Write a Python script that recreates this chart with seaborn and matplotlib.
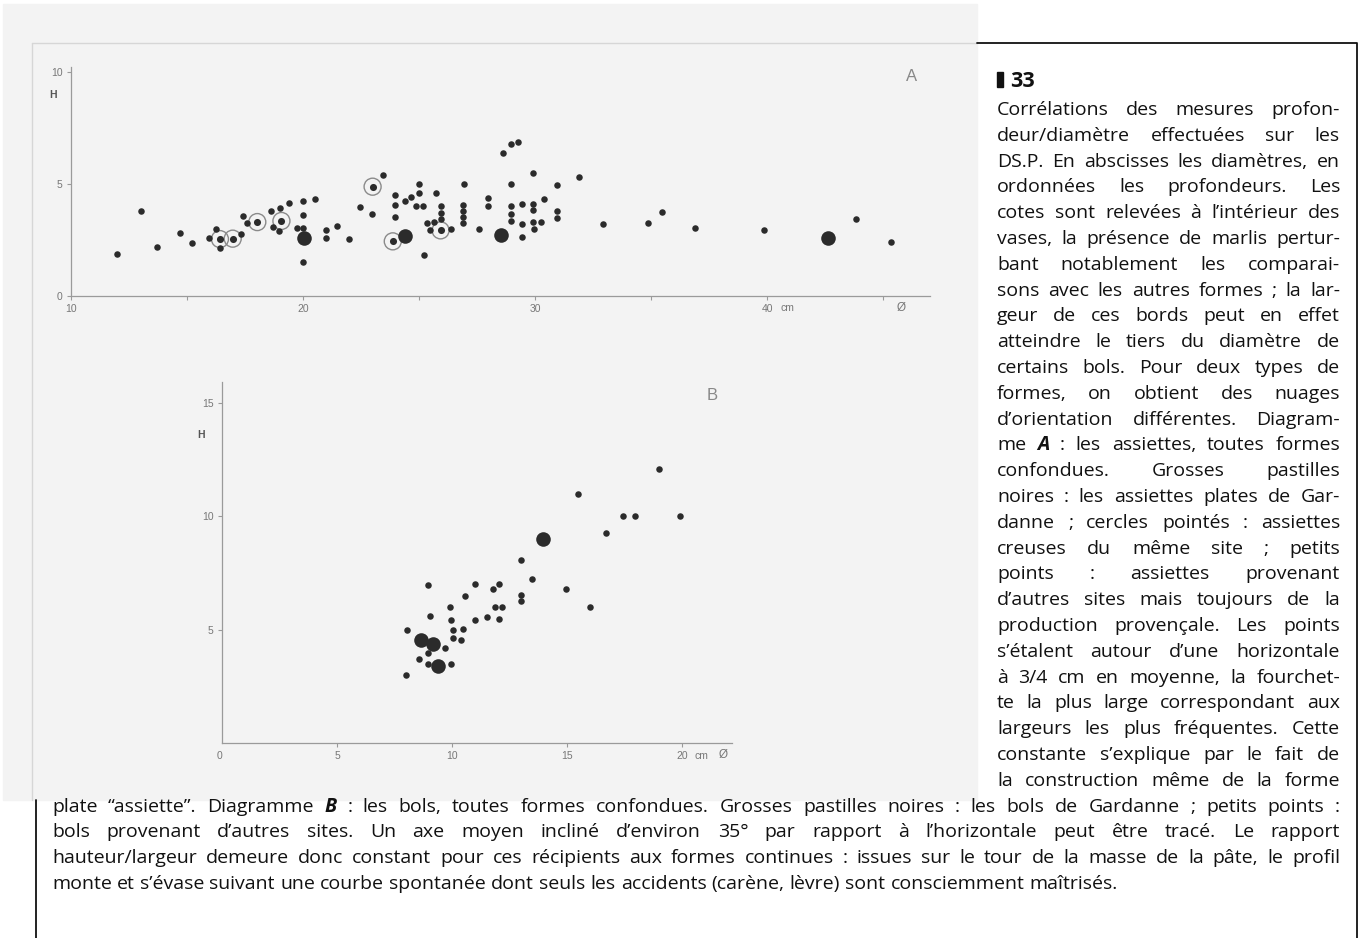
import matplotlib
matplotlib.use("Agg")
import matplotlib.pyplot as plt
from matplotlib.patches import Rectangle
from matplotlib.lines import Line2D
import pandas as pd
import seaborn as sns

# Diagramme A : assiettes (diametre / hauteur, cm)
a_small_d = [11.97, 13.0, 13.72, 14.7, 15.2, 15.96, 16.24, 16.42, 17.34, 17.43, 17.57, 18.63, 18.72,
             19.0, 18.98, 19.38, 19.73, 20.01, 20.01, 20.01, 20.0, 20.5, 20.99, 20.99, 21.45, 22.0,
             22.46, 22.97, 23.46, 23.98, 23.98, 23.98, 24.41, 24.64, 24.87, 24.99, 24.99, 25.19,
             25.22, 25.36, 25.47, 25.65, 25.73, 25.93, 25.93, 25.93, 26.39, 26.94, 26.91, 26.91,
             26.91, 26.91, 27.59, 27.97, 27.97, 28.6, 28.97, 29.25, 28.95, 28.95, 28.95, 28.95,
             29.45, 29.45, 29.45, 29.91, 29.93, 29.93, 29.93, 29.96, 30.24, 30.39, 30.93, 30.93,
             30.93, 31.91, 32.94, 34.88, 35.49, 36.91, 39.87, 43.84, 45.33]
a_small_h = [1.89, 3.81, 2.2, 2.83, 2.37, 2.58, 2.99, 2.13, 2.77, 3.57, 3.27, 3.78, 3.09,
             3.94, 2.92, 4.14, 3.02, 4.24, 3.62, 3.02, 1.52, 4.33, 2.96, 2.58, 3.11, 2.53,
             3.99, 3.66, 5.39, 4.5, 4.06, 3.51, 4.24, 4.4, 4.04, 4.99, 4.58, 4.04,
             1.85, 3.27, 2.95, 3.29, 4.6, 4.03, 3.72, 3.42, 2.98, 4.99, 4.06, 3.79,
             3.53, 3.26, 3.0, 4.38, 4.0, 6.4, 6.79, 6.86, 4.99, 4.0, 3.65, 3.36,
             4.11, 3.23, 2.65, 5.5, 4.12, 3.84, 3.32, 2.99, 3.32, 4.33, 4.96, 3.78,
             3.47, 5.33, 3.21, 3.24, 3.76, 3.02, 2.93, 3.42, 2.4]
a_big_d = [20.06, 24.4, 28.55, 42.63]
a_big_h = [2.6, 2.69, 2.74, 2.57]
a_ring_d = [16.42, 16.97, 18.03, 19.07, 23.0, 23.87, 25.93]
a_ring_h = [2.54, 2.56, 3.30, 3.35, 4.88, 2.44, 2.93]

# Diagramme B : bols
b_small_d = [8.0, 8.06, 8.58, 8.96, 9.04, 8.96, 8.96, 9.71, 9.91, 9.94, 9.97, 10.03, 10.03,
             10.38, 10.49, 10.58, 10.99, 10.99, 11.51, 11.8, 11.88, 12.03, 12.06, 12.17,
             12.99, 12.99, 12.99, 13.48, 14.96, 15.48, 16.0, 16.7, 17.42, 17.97, 18.99, 19.91]
b_small_h = [3.01, 4.97, 3.69, 6.98, 5.59, 3.98, 3.48, 4.18, 6.0, 5.44, 3.48, 4.97, 4.63,
             4.54, 5.04, 6.48, 7.01, 5.43, 5.56, 6.81, 5.99, 7.01, 5.48, 5.99,
             8.06, 6.54, 6.28, 7.25, 6.81, 11.0, 6.0, 9.25, 10.0, 10.0, 12.07, 10.0]
b_big_d = [8.64, 9.16, 9.39, 13.94]
b_big_h = [4.54, 4.35, 3.4, 8.99]

col_lines = [
    "Corrélations des mesures profon-",
    "deur/diamètre effectuées sur les",
    "DS.P. En abscisses les diamètres, en",
    "ordonnées les profondeurs. Les",
    "cotes sont relevées à l’intérieur des",
    "vases, la présence de marlis pertur-",
    "bant notablement les comparai-",
    "sons avec les autres formes ; la lar-",
    "geur de ces bords peut en effet",
    "atteindre le tiers du diamètre de",
    "certains bols. Pour deux types de",
    "formes, on obtient des nuages",
    "d’orientation différentes. Diagram-",
    "me *A* : les assiettes, toutes formes",
    "confondues. Grosses pastilles",
    "noires : les assiettes plates de Gar-",
    "danne ; cercles pointés : assiettes",
    "creuses du même site ; petits",
    "points : assiettes provenant",
    "d’autres sites mais toujours de la",
    "production provençale. Les points",
    "s’étalent autour d’une horizontale",
    "à 3/4 cm en moyenne, la fourchet-",
    "te la plus large correspondant aux",
    "largeurs les plus fréquentes. Cette",
    "constante s’explique par le fait de",
    "la construction même de la forme",
]
wide_lines = [
    "plate “assiette”. Diagramme *B* : les bols, toutes formes confondues. Grosses pastilles noires : les bols de Gardanne ; petits points :",
    "bols provenant d’autres sites. Un axe moyen incliné d’environ 35° par rapport à l’horizontale peut être tracé. Le rapport",
    "hauteur/largeur demeure donc constant pour ces récipients aux formes continues : issues sur le tour de la masse de la pâte, le profil",
    "monte et s’évase suivant une courbe spontanée dont seuls les accidents (carène, lèvre) sont consciemment maîtrisés.",
]

W, H = 1367, 938
sns.set_theme(style="white")
plt.rcParams["font.family"] = ["Open Sans", "DejaVu Sans"]

fig = plt.figure(figsize=(W / 100, H / 100), dpi=100)
fig.patch.set_facecolor("white")


def fx(x):
    return x / W


def fy(y):
    return 1 - y / H


def px_box(x0, y0, x1, y1):
    return [fx(x0), fy(y1), (x1 - x0) / W, (y1 - y0) / H]


# scanned photo area and page frame
fig.add_artist(Rectangle((fx(3), fy(800)), (977 - 3) / W, (800 - 4) / H,
                         transform=fig.transFigure, color="#f3f3f3", zorder=0))
fig.add_artist(Line2D([fx(32), fx(977)], [fy(43), fy(43)], transform=fig.transFigure,
                      color="#d6d6d6", lw=1))
fig.add_artist(Line2D([fx(32), fx(32)], [fy(43), fy(800)], transform=fig.transFigure,
                      color="#d6d6d6", lw=1))
fig.add_artist(Line2D([fx(977), fx(1357), fx(1357)], [fy(43), fy(43), fy(938)],
                      transform=fig.transFigure, color="#111", lw=1.3))
fig.add_artist(Line2D([fx(36), fx(36)], [fy(800), fy(938)], transform=fig.transFigure,
                      color="#111", lw=1.3))

dot = "#2b2b2b"
tick_font = ["Liberation Sans", "DejaVu Sans"]


def style_axes(ax):
    ax.set_facecolor("none")
    ax.spines[["top", "right"]].set_visible(False)
    for s in ["left", "bottom"]:
        ax.spines[s].set_color("#9a9a9a")
        ax.spines[s].set_linewidth(0.9)
    ax.tick_params(bottom=True, left=True, length=3, width=0.8, color="#9a9a9a",
                   labelsize=7.5, labelcolor="#777777", pad=3)
    for lab in ax.get_xticklabels() + ax.get_yticklabels():
        lab.set_family(tick_font)
    ax.set_xlabel("")
    ax.set_ylabel("")


# ---- diagram A
ax_a = fig.add_axes(px_box(71, 67, 930, 296))
df_small = pd.DataFrame({"d": a_small_d, "h": a_small_h})
df_big = pd.DataFrame({"d": a_big_d, "h": a_big_h})
df_ring = pd.DataFrame({"d": a_ring_d, "h": a_ring_h})
sns.scatterplot(data=df_ring, x="d", y="h", ax=ax_a, s=150, facecolor="none",
                edgecolor="#8a8a8a", linewidth=1.0, legend=False)
sns.scatterplot(data=df_ring, x="d", y="h", ax=ax_a, s=26, color=dot, linewidth=0, legend=False)
sns.scatterplot(data=df_small, x="d", y="h", ax=ax_a, s=22, color=dot, linewidth=0, legend=False)
sns.scatterplot(data=df_big, x="d", y="h", ax=ax_a, s=110, color=dot, linewidth=0, legend=False)
ax_a.set_xlim(10, 10 + 859 / 23.2)
ax_a.set_ylim(0, 229 / 22.4)
ax_a.set_xticks([10, 15, 20, 25, 30, 35, 40, 45])
ax_a.set_xticklabels(["10", "", "20", "", "30", "", "40", ""])
ax_a.set_yticks([0, 5, 10])
ax_a.set_yticklabels(["0", "5", "10"])
style_axes(ax_a)
ax_a.text(40.6, -0.03, "cm", transform=ax_a.get_xaxis_transform(), fontsize=7.5,
          color="#777777", family=tick_font, va="top")
ax_a.text(45.8, -0.025, "Ø", transform=ax_a.get_xaxis_transform(), fontsize=8.5,
          color="#777777", family=tick_font, va="top", ha="center")
ax_a.text(-0.016, 8.97, "H", transform=ax_a.get_yaxis_transform(), fontsize=7.5,
          color="#555555", family=tick_font, weight="bold", ha="right", va="center")
ax_a.text(46.25, 9.78, "A", fontsize=12, color="#888888", family=tick_font,
          ha="center", va="center")

# ---- diagram B
ax_b = fig.add_axes(px_box(222, 382, 732, 743))
df_bs = pd.DataFrame({"d": b_small_d, "h": b_small_h})
df_bb = pd.DataFrame({"d": b_big_d, "h": b_big_h})
sns.scatterplot(data=df_bs, x="d", y="h", ax=ax_b, s=22, color=dot, linewidth=0, legend=False)
sns.scatterplot(data=df_bb, x="d", y="h", ax=ax_b, s=110, color=dot, linewidth=0, legend=False)
ax_b.set_xlim(0, 510 / 23.0)
ax_b.set_ylim(0, 361 / 22.67)
ax_b.set_xticks([5, 10, 15, 20])
ax_b.set_xticklabels(["5", "10", "15", "20"])
ax_b.set_yticks([5, 10, 15])
ax_b.set_yticklabels(["5", "10", "15"])
style_axes(ax_b)
ax_b.text(-0.1, -0.022, "0", transform=ax_b.get_xaxis_transform(), fontsize=7.5,
          color="#777777", family=tick_font, va="top", ha="center")
ax_b.text(20.55, -0.022, "cm", transform=ax_b.get_xaxis_transform(), fontsize=7.5,
          color="#777777", family=tick_font, va="top")
ax_b.text(21.8, -0.018, "Ø", transform=ax_b.get_xaxis_transform(), fontsize=8.5,
          color="#777777", family=tick_font, va="top", ha="center")
ax_b.text(-0.033, 13.6, "H", transform=ax_b.get_yaxis_transform(), fontsize=7.5,
          color="#555555", family=tick_font, weight="bold", ha="right", va="center")
ax_b.text(21.3, 15.35, "B", fontsize=12, color="#888888", family=tick_font,
          ha="center", va="center")

# ---- caption, justified like the printed page
renderer = fig.canvas.get_renderer()
body = dict(fontsize=14.0, color="#111111", family=["Open Sans", "DejaVu Sans"])


def token_kw(tok):
    if tok.startswith("*") and tok.endswith("*"):
        return tok.strip("*"), dict(body, weight="bold", style="italic")
    return tok, body


def width_of(s, kw):
    t = fig.text(0, 0, s, **kw)
    w = t.get_window_extent(renderer).width
    t.remove()
    return w


space_w = width_of("a a", body) - width_of("aa", body)


def set_line(line, x0, x1, base, justify=True):
    toks = [token_kw(t) for t in line.split(" ")]
    widths = [width_of(s, kw) for s, kw in toks]
    if justify and len(toks) > 1:
        gap = (x1 - x0 - sum(widths)) / (len(toks) - 1)
    else:
        gap = space_w
    x = x0
    for (s, kw), w in zip(toks, widths):
        fig.text(fx(x), fy(base), s, va="baseline", ha="left", **kw)
        x += w + gap


fig.add_artist(Rectangle((fx(997), fy(87)), 6 / W, 15 / H, transform=fig.transFigure,
                         color="#111111"))
fig.text(fx(1010), fy(87), "33", fontsize=15.5, weight="bold", color="#111111",
         va="baseline", family=["Open Sans", "DejaVu Sans"])

pitch = 25.8
for i, line in enumerate(col_lines):
    set_line(line, 997, 1340, 115 + i * pitch)
start = 115 + len(col_lines) * pitch
for i, line in enumerate(wide_lines):
    set_line(line, 52, 1340, start + i * pitch, justify=(i < len(wide_lines) - 1))

fig.savefig("out.png", dpi=100)
